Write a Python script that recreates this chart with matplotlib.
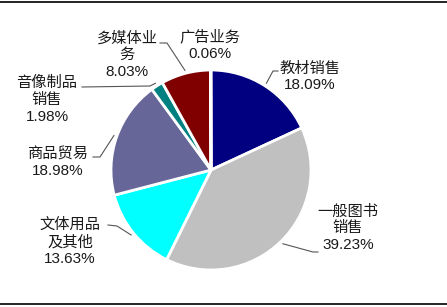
import matplotlib
matplotlib.use('Agg')
import numpy as np
import matplotlib.pyplot as plt
from matplotlib.lines import Line2D

plt.rcParams['font.family'] = ['Liberation Sans', 'Noto Sans CJK SC']

# segment shares (%), clockwise from 12 o'clock
labels = ['教材销售', '一般图书\n销售', '文体用品\n及其他', '商品贸易', '音像制品\n销售', '多媒体业\n务', '广告业务']
shares = [18.09, 39.23, 13.63, 18.98, 1.98, 8.03, 0.06]
colors = ['#000080', '#C0C0C0', '#00FFFF', '#666699', '#008080', '#800000', '#CC9900']

# label text centre (pixels, y from top) and leader elbow point (None = no leader)
label_pos = [(310, 77), (348, 228), (70, 242), (58, 163), (47, 100), (127, 55), (210, 45)]
elbows = [[(278, 71), (273, 71)], [(318, 252), (313, 252)], [(108, 225), (117, 226)],
          [(93, 157), (100, 157)], [(82, 87), (150, 86)], [(160, 43), (167, 43)], None]

W, H = 447, 307
cx, cy, R = 211, H - 170, 100

fig = plt.figure(figsize=(W / 100, H / 100), dpi=100)
ax = fig.add_axes([0, 0, 1, 1])

wedges, _ = ax.pie(shares, colors=colors, startangle=90, counterclock=False,
                   center=(cx, cy), radius=R,
                   wedgeprops=dict(edgecolor='white', linewidth=2))
ax.set_xlim(0, W)
ax.set_ylim(0, H)
ax.set_aspect('equal')
ax.axis('off')

for w, lab, val, pos, elb in zip(wedges, labels, shares, label_pos, elbows):
    ax.text(pos[0], H - pos[1], f'{lab}\n{val:.2f}%', ha='center', va='center',
            fontsize=11, linespacing=1.25, color='#1a1a1a')
    if elb is None:
        continue
    mid = np.deg2rad((w.theta1 + w.theta2) / 2)
    px, py = cx + 1.03 * R * np.cos(mid), cy + 1.03 * R * np.sin(mid)
    xs = [elb[0][0], elb[1][0], px]
    ys = [H - elb[0][1], H - elb[1][1], py]
    ax.plot(xs, ys, color='#555555', linewidth=0.8)

# top and bottom rules
fig.add_artist(Line2D([0, 1], [1 - 2 / H, 1 - 2 / H], color='black', linewidth=1.2))
fig.add_artist(Line2D([0, 1], [3 / H, 3 / H], color='black', linewidth=1.2))

fig.savefig('out.png', dpi=100, facecolor='white')
